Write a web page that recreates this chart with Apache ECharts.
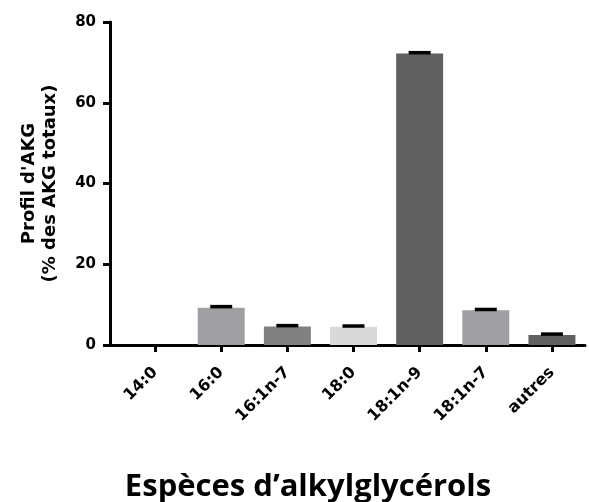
<!DOCTYPE html>
<html>
<head>
<meta charset="utf-8">
<script src="https://cdn.jsdelivr.net/npm/echarts@6/dist/echarts.min.js"></script>
<style>html,body{margin:0;padding:0;background:#fff}#c{width:589px;height:502px}</style>
</head>
<body>
<div id="c"></div>
<script>
var categories = ['14:0', '16:0', '16:1n-7', '18:0', '18:1n-9', '18:1n-7', 'autres'];
var values = [0, 9.2, 4.6, 4.5, 72.2, 8.6, 2.5];
var errors = [0, 0.3, 0.2, 0.2, 0.2, 0.2, 0.2];
var barColors = ['#a0a0a4', '#a0a0a4', '#808080', '#d9d9d9', '#606060', '#a0a0a4', '#606060'];
var yTicks = [0, 20, 40, 60, 80];
var yTitle = "Profil d'AKG\n(% des AKG totaux)";
var xTitle = 'Espèces d’alkylglycérols';

var chart = echarts.init(document.getElementById('c'), null, {renderer: 'canvas'});
chart.setOption({
  animation: false,
  grid: {left: 122, right: 4, top: 22, bottom: 157},
  xAxis: {
    type: 'category',
    data: categories,
    axisLine: {lineStyle: {color: '#000', width: 3}},
    axisTick: {show: true, length: 7, alignWithLabel: true, lineStyle: {color: '#000', width: 3}},
    axisLabel: {rotate: 45, margin: 25, color: '#000', fontFamily: 'DejaVu Sans', fontWeight: 'bold', fontSize: 16}
  },
  yAxis: {
    type: 'value', min: yTicks[0], max: yTicks[yTicks.length - 1], interval: 20,
    offset: 12,
    splitLine: {show: false},
    axisLine: {show: true, lineStyle: {color: '#000', width: 3}},
    axisTick: {show: true, length: 7, lineStyle: {color: '#000', width: 3}},
    axisLabel: {margin: 14, color: '#000', fontFamily: 'DejaVu Sans', fontWeight: 'bold', fontSize: 15},
    name: yTitle,
    nameLocation: 'middle',
    nameGap: 49,
    nameRotate: 90,
    nameTextStyle: {color: '#000', fontFamily: 'DejaVu Sans', fontWeight: 'bold', fontSize: 18, lineHeight: 21}
  },
  graphic: [
    {type: 'line', z: 10, shape: {x1: 109, y1: 345.5, x2: 123, y2: 345.5}, style: {stroke: '#000', lineWidth: 3}},
    {type: 'text', style: {x: 308, y: 487, text: xTitle, align: 'center', verticalAlign: 'middle', font: 'bold 31px "Open Sans", sans-serif', fill: '#000'}}
  ],
  series: [
    {
      type: 'bar',
      barWidth: '71%',
      data: values.map(function (v, i) { return {value: v, itemStyle: {color: barColors[i]}}; }),
      z: 2
    },
    {
      type: 'custom',
      z: 3,
      data: values.map(function (v, i) { return [i, v, errors[i]]; }),
      renderItem: function (params, api) {
        var v = api.value(1), e = api.value(2);
        if (v <= 0) return null;
        var top = api.coord([api.value(0), v + e]);
        var base = api.coord([api.value(0), v]);
        var hw = 11;
        return {type: 'group', children: [
          {type: 'line', shape: {x1: top[0], y1: base[1], x2: top[0], y2: top[1]}, style: {stroke: '#000', lineWidth: 2}},
          {type: 'line', shape: {x1: top[0] - hw, y1: top[1], x2: top[0] + hw, y2: top[1]}, style: {stroke: '#000', lineWidth: 3.5}}
        ]};
      }
    }
  ]
});
</script>
</body>
</html>
